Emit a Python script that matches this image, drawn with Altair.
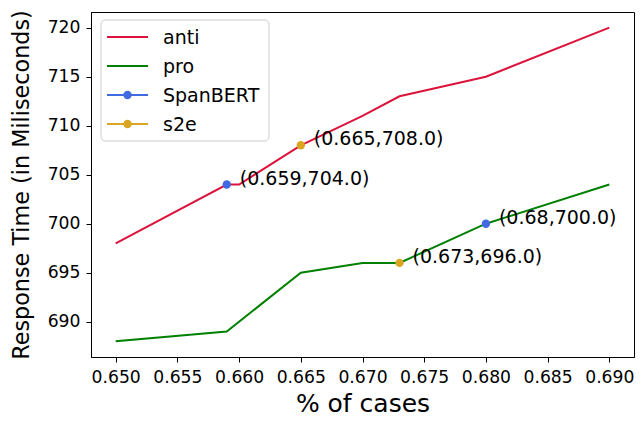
import altair as alt
import pandas as pd

# ---- data ----
anti_x = [0.650, 0.659, 0.660, 0.665, 0.670, 0.673, 0.680, 0.690]
anti_y = [698, 704, 704, 708, 711, 713, 715, 720]
pro_x = [0.650, 0.659, 0.665, 0.670, 0.673, 0.680, 0.690]
pro_y = [688, 689, 695, 696, 696, 700, 704]

pt_model = ["SpanBERT", "s2e", "s2e", "SpanBERT"]
pt_x = [0.659, 0.665, 0.673, 0.680]
pt_y = [704.0, 708.0, 696.0, 700.0]
pt_label = ["(0.659,704.0)", "(0.665,708.0)", "(0.673,696.0)", "(0.68,700.0)"]

series = ["anti", "pro", "SpanBERT", "s2e"]
colors = ["#dc143c", "#008000", "#4169e1", "#daa520"]
has_marker = [False, False, True, True]

x_ticks = [0.650, 0.655, 0.660, 0.665, 0.670, 0.675, 0.680, 0.685, 0.690]
y_ticks = [690, 695, 700, 705, 710, 715, 720]

lines = pd.DataFrame(
    {"x": anti_x + pro_x, "y": anti_y + pro_y,
     "series": ["anti"] * len(anti_x) + ["pro"] * len(pro_x)}
)
pts = pd.DataFrame({"x": pt_x, "y": pt_y, "series": pt_model, "label": pt_label})

cscale = alt.Scale(domain=series, range=colors)
xs = alt.X("x:Q", scale=alt.Scale(domain=[0.648, 0.692], nice=False, zero=False),
           axis=alt.Axis(values=x_ticks, format=".3f", title="% of cases",
                         titleFontSize=25, titlePadding=6))
ys = alt.Y("y:Q", scale=alt.Scale(domain=[686.4, 721.6], nice=False, zero=False),
           axis=alt.Axis(values=y_ticks, format="d", title="Response Time (in Miliseconds)",
                         titleFontSize=22.3, titlePadding=14))

line_layer = alt.Chart(lines).mark_line(strokeWidth=2).encode(
    x=xs, y=ys, color=alt.Color("series:N", scale=cscale, legend=None)
)
pt_layer = alt.Chart(pts).mark_point(filled=True, size=70, opacity=1).encode(
    x="x:Q", y="y:Q", color=alt.Color("series:N", scale=cscale, legend=None)
)
txt_layer = alt.Chart(pts).mark_text(
    align="left", baseline="alphabetic", dx=13, fontSize=19, color="black"
).encode(x="x:Q", y="y:Q", text="label:N")

# ---- legend (drawn as decoration in pixel space) ----
one = pd.DataFrame({"k": [0]})
legend_layers = [
    alt.Chart(one).mark_rect(
        fill="white", fillOpacity=0.8, stroke="#cccccc", strokeWidth=1, cornerRadius=4
    ).encode(x=alt.value(10), x2=alt.value(178), y=alt.value(8), y2=alt.value(129))
]
for i, (name, col, mk) in enumerate(zip(series, colors, has_marker)):
    cy = 25 + 29 * i
    legend_layers.append(
        alt.Chart(one).mark_rule(color=col, strokeWidth=2).encode(
            x=alt.value(16), x2=alt.value(57), y=alt.value(cy))
    )
    if mk:
        legend_layers.append(
            alt.Chart(one).mark_point(filled=True, size=70, color=col, opacity=1).encode(
                x=alt.value(36.5), y=alt.value(cy))
        )
    legend_layers.append(
        alt.Chart(one).mark_text(align="left", baseline="middle", fontSize=19,
                                 color="black", text=name).encode(
            x=alt.value(72), y=alt.value(cy + 1))
    )

chart = alt.layer(line_layer, pt_layer, txt_layer, *legend_layers).properties(
    width=543, height=345,
    autosize=alt.AutoSizeParams(type="none"),
    padding={"left": 83, "top": 4, "right": 2, "bottom": 65},
).configure(font="DejaVu Sans").configure_view(
    stroke="black", strokeWidth=1
).configure_axis(
    grid=False, domainColor="black", tickColor="black", labelColor="black",
    titleColor="black", labelFontSize=17.2, tickSize=5, labelPadding=6,
    titleFontWeight="normal", domainWidth=1, tickWidth=1,
)

chart.save("out.html", embed_options={"renderer": "svg", "actions": False})
